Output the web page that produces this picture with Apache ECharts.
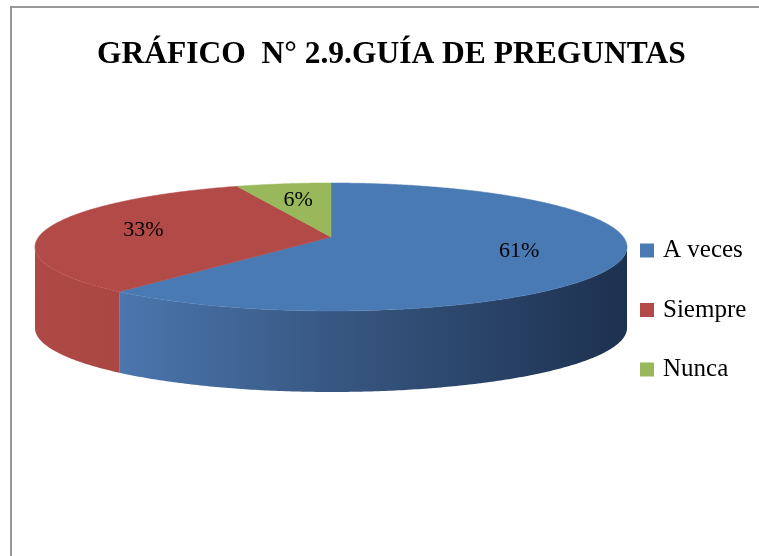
<!DOCTYPE html>
<html>
<head>
<meta charset="utf-8">
<script src="https://cdn.jsdelivr.net/npm/echarts@6/dist/echarts.min.js"></script>
<style>html,body{margin:0;padding:0;background:#fff;}#c{width:759px;height:556px;}</style>
</head>
<body>
<div id="c"></div>
<script>
// ---- data ----
const titleText = 'GRÁFICO  N° 2.9.GUÍA DE PREGUNTAS';
const categories = ['A veces', 'Siempre', 'Nunca'];
const values = [61, 33, 6];
const pctLabels = ['61%', '33%', '6%'];

// ---- styles ----
const topColors = ['#4a7ab4', '#b24b47', '#98b85b'];
const sideStops = [
  [[0, '#4b76ae'], [0.45, '#36557f'], [1, '#1d3150']],
  [[0, '#ae4945'], [1, '#ab4743']],
  [[0, '#7f9a4a'], [1, '#7f9a4a']]
];

// projection geometry (3D tilted pie with perspective)
const G = { cx: 331, ay: 237, Sx: 292.4, s: 62.45, e: 0.156, depth: 81, lf: 0.66 };
function proj(theta, f, dy) {
  const w = 1 + G.e * f * Math.cos(theta);
  return [G.cx + G.Sx * f * Math.sin(theta) / w, G.ay - G.s * f * Math.cos(theta) / w + (dy || 0)];
}
const total = values.reduce((a, b) => a + b, 0);
function sliceAngles(i) {
  let before = 0;
  for (let k = 0; k < i; k++) before += values[k];
  const a0 = before / total * Math.PI * 2;
  const a1 = (before + values[i]) / total * Math.PI * 2;
  return [a0, a1];
}
function arc(a, b, f, dy) {
  const pts = [];
  const n = Math.max(2, Math.ceil((b - a) / 0.01));
  for (let j = 0; j <= n; j++) pts.push(proj(a + (b - a) * j / n, f, dy));
  return pts;
}
const visA = Math.acos(-G.e), visB = Math.PI * 2 - Math.acos(-G.e);

function makeRender(i) {
  return function (params, api) {
    const v = api.value(0);
    const [a0, a1] = sliceAngles(i);
    const children = [];
    // side wall (front-facing part)
    const sa = Math.max(a0, visA), sb = Math.min(a1, visB);
    if (sa < sb) {
      const topArc = arc(sa, sb, 1, 0);
      const botArc = arc(sa, sb, 1, G.depth).reverse();
      const xs = topArc.map(p => p[0]);
      let x0 = Math.min.apply(null, xs), x1 = Math.max.apply(null, xs);
      if (x1 - x0 < 1) x1 = x0 + 1;
      children.push({
        type: 'polygon',
        shape: { points: topArc.concat(botArc) },
        style: {
          fill: {
            type: 'linear', global: true,
            x: x0, y: 0, x2: x1, y2: 0,
            colorStops: sideStops[i].map(s => ({ offset: s[0], color: s[1] }))
          },
          stroke: null
        }
      });
    }
    // top face
    const pts = [proj(0, 0, 0)].concat(arc(a0, a1, 1, 0));
    children.push({
      type: 'polygon',
      shape: { points: pts },
      style: { fill: topColors[i], stroke: topColors[i], lineWidth: 0.5 }
    });
    // percentage label
    const mid = (a0 + a1) / 2;
    const lp = proj(mid, G.lf, 0);
    children.push({
      type: 'text',
      x: lp[0], y: lp[1],
      style: {
        text: pctLabels[i],
        fill: '#000',
        fontFamily: 'Liberation Serif',
        fontSize: 22,
        align: 'center',
        verticalAlign: 'middle'
      },
      z2: 10
    });
    return { type: 'group', children: children };
  };
}

const chart = echarts.init(document.getElementById('c'), null, { renderer: 'canvas' });
chart.setOption({
  animation: false,
  backgroundColor: '#fff',
  title: {
    text: titleText,
    left: 97,
    top: 39,
    padding: 0,
    textStyle: { fontFamily: 'Liberation Serif', fontWeight: 'bold', fontSize: 31.5, color: '#000' }
  },
  legend: {
    orient: 'vertical',
    left: 640,
    top: 235,
    padding: 0,
    itemWidth: 14,
    itemHeight: 14,
    itemGap: 28.5,
    icon: 'rect',
    selectedMode: false,
    data: categories,
    textStyle: { fontFamily: 'Liberation Serif', fontSize: 25, color: '#000', lineHeight: 24, padding: [7, 0, 0, 4] }
  },
  graphic: [{
    type: 'polyline',
    shape: { points: [[11, 556], [11, 7], [759, 7]] },
    style: { stroke: '#979797', lineWidth: 2, fill: null },
    silent: true
  }],
  series: categories.map((name, i) => ({
    type: 'custom',
    name: name,
    coordinateSystem: 'none',
    silent: true,
    itemStyle: { color: topColors[i] },
    renderItem: makeRender(i),
    data: [values[i]]
  }))
});
</script>
</body>
</html>
